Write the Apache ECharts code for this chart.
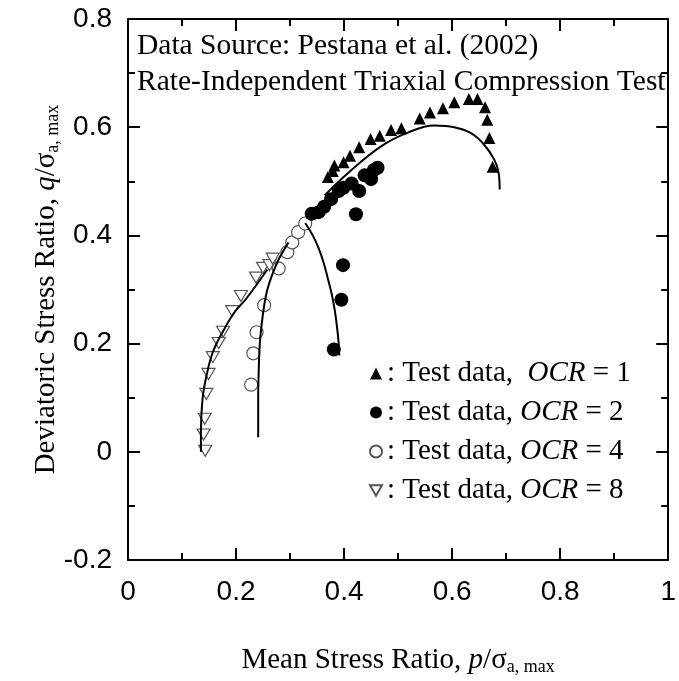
<!DOCTYPE html>
<html>
<head>
<meta charset="utf-8">
<script src="https://cdn.jsdelivr.net/npm/echarts@6/dist/echarts.min.js"></script>
<style>html,body{margin:0;padding:0;background:#fff;}#c{width:679px;height:681px;}</style>
</head>
<body>
<div id="c"></div>
<script>
// ---- Data ----
const xTicks = [0, 0.2, 0.4, 0.6, 0.8, 1];
const yTicks = [-0.2, 0, 0.2, 0.4, 0.6, 0.8];

const ocr1P = [0.370,0.379,0.382,0.399,0.411,0.428,0.449,0.466,0.487,0.506,0.540,0.559,0.583,0.604,0.631,0.647,0.661,0.665,0.669,0.675];
const ocr1Q = [0.508,0.519,0.529,0.535,0.547,0.563,0.578,0.584,0.595,0.598,0.616,0.627,0.635,0.646,0.652,0.652,0.637,0.614,0.580,0.527];

const ocr2P = [0.340,0.353,0.363,0.376,0.390,0.399,0.414,0.428,0.438,0.450,0.455,0.462,0.422,0.398,0.395,0.381];
const ocr2Q = [0.440,0.443,0.453,0.467,0.482,0.488,0.496,0.482,0.511,0.504,0.521,0.525,0.439,0.345,0.281,0.189];

const ocr4P = [0.228,0.232,0.238,0.252,0.279,0.295,0.304,0.315,0.328];
const ocr4Q = [0.124,0.182,0.221,0.271,0.339,0.369,0.387,0.406,0.422];

const ocr8P = [0.143,0.140,0.142,0.145,0.149,0.157,0.168,0.176,0.193,0.209,0.237,0.250,0.262,0.268];
const ocr8Q = [0.002,0.032,0.061,0.107,0.144,0.175,0.201,0.222,0.260,0.288,0.322,0.340,0.345,0.357];

// Model curves
const fit1P = [0.364,0.408,0.469,0.518,0.567,0.604,0.635,0.659,0.678,0.686,0.688];
const fit1Q = [0.474,0.516,0.565,0.590,0.603,0.600,0.589,0.568,0.540,0.516,0.485];
const fit2P = [0.328,0.342,0.353,0.362,0.370,0.377,0.383,0.387,0.390,0.391];
const fit2Q = [0.423,0.400,0.376,0.350,0.320,0.292,0.260,0.230,0.200,0.178];
const fit4P = [0.297,0.288,0.279,0.268,0.258,0.252,0.248,0.244,0.242,0.241,0.241];
const fit4Q = [0.387,0.372,0.356,0.330,0.300,0.270,0.240,0.200,0.150,0.100,0.027];
const fit8P = [0.135,0.135,0.138,0.146,0.157,0.175,0.197,0.218,0.258];
const fit8Q = [0.000,0.036,0.098,0.144,0.184,0.221,0.258,0.282,0.337];

const legendNames = ['OCR1','OCR2','OCR4','OCR8'];
const legendOCR = ['1','2','4','8'];

const noteLines = ['Data Source: Pestana et al. (2002)', 'Rate-Independent Triaxial Compression Test'];

// ---- Build ----
const pairs = (a, b) => a.map((v, i) => [v, b[i]]);
const SERIF = '"Liberation Serif","Times New Roman",serif';
const SANS = '"Liberation Sans",Arial,sans-serif';
const downTri = 'path://M0,0 L10,0 L5,8.66 Z';

const chart = echarts.init(document.getElementById('c'), null, {renderer: 'canvas'});

function lineSeries(p, q) {
  return {type: 'line', data: pairs(p, q), smooth: 0.4, symbol: 'none', silent: true,
    lineStyle: {color: '#000', width: 2}, z: 3, xAxisIndex: 0, yAxisIndex: 0};
}

const axisCommon = {
  type: 'value',
  axisLine: {show: true, onZero: false, lineStyle: {color: '#000', width: 2}},
  axisTick: {show: true, inside: true, length: 12, lineStyle: {color: '#000', width: 2}},
  minorTick: {show: true, splitNumber: 2, length: 7, lineStyle: {color: '#000', width: 2}},
  splitLine: {show: false},
  minorSplitLine: {show: false}
};

const nameRich = {
  n: {fontFamily: SERIF, fontSize: 29, color: '#000'},
  i: {fontFamily: SERIF, fontSize: 29, fontStyle: 'italic', color: '#000'},
  s: {fontFamily: SERIF, fontSize: 18, color: '#000', verticalAlign: 'bottom', padding: [14, 0, 0, 0]}
};

const option = {
  backgroundColor: '#fff',
  animation: false,
  grid: {left: 128, right: 7, top: 19, bottom: 120, containLabel: false},
  xAxis: [
    Object.assign({}, axisCommon, {
      min: xTicks[0], max: xTicks[xTicks.length - 1], interval: 0.2, position: 'bottom',
      axisLabel: {show: true, fontFamily: SANS, fontSize: 28, color: '#000', margin: 18},
      name: '{n|Mean Stress Ratio, }{i|p}{n|/σ}{s|a, max}',
      nameLocation: 'middle', nameGap: 84,
      nameTextStyle: {rich: nameRich}
    }),
    Object.assign({}, axisCommon, {
      min: xTicks[0], max: xTicks[xTicks.length - 1], interval: 0.2, position: 'top',
      axisLabel: {show: false}
    })
  ],
  yAxis: [
    Object.assign({}, axisCommon, {
      min: yTicks[0], max: yTicks[yTicks.length - 1], interval: 0.2, position: 'left',
      axisLabel: {show: true, fontFamily: SANS, fontSize: 28, color: '#000', margin: 16,
        formatter: v => (Math.abs(v) < 1e-9 ? '0' : String(Math.round(v * 10) / 10))},
      name: '{n|Deviatoric Stress Ratio, }{i|q}{n|/σ}{s|a, max}',
      nameLocation: 'middle', nameGap: 66, nameRotate: 90, nameMoveOverlap: false,
      nameTextStyle: {rich: nameRich}
    }),
    Object.assign({}, axisCommon, {
      min: yTicks[0], max: yTicks[yTicks.length - 1], interval: 0.2, position: 'right',
      axisLabel: {show: false}
    })
  ],
  legend: {
    data: legendNames,
    orient: 'vertical',
    left: 364, top: 354,
    itemWidth: 12, itemHeight: 12, itemGap: 10, itemTextGap: 5,
    selectedMode: false,
    formatter: function (name) {
      const k = legendOCR[legendNames.indexOf(name)];
      const sp = name === 'OCR1' ? ',  ' : ', ';
      return '{n|: Test data' + sp + '}{i|OCR}{n| = ' + k + '}';
    },
    textStyle: {
      rich: {
        n: {fontFamily: SERIF, fontSize: 29, color: '#000', lineHeight: 31},
        i: {fontFamily: SERIF, fontSize: 29, fontStyle: 'italic', color: '#000', lineHeight: 31}
      }
    }
  },
  graphic: noteLines.map((t, i) => ({
    type: 'text', left: 137, top: 31 + i * 36, z: 10, silent: true,
    style: {text: t, font: '29.5px ' + SERIF, fill: '#000'}
  })),
  series: [
    {name: 'OCR1', type: 'scatter', data: pairs(ocr1P, ocr1Q), symbol: 'triangle', symbolSize: 12,
      itemStyle: {color: '#000', opacity: 1}, z: 4},
    {name: 'OCR2', type: 'scatter', data: pairs(ocr2P, ocr2Q), symbol: 'circle', symbolSize: 14,
      itemStyle: {color: '#000', opacity: 1}, z: 4},
    {name: 'OCR4', type: 'scatter', data: pairs(ocr4P, ocr4Q), symbol: 'circle', symbolSize: 13,
      itemStyle: {color: '#fff', borderColor: '#555', borderWidth: 1.2, opacity: 1}, z: 2},
    {name: 'OCR8', type: 'scatter', data: pairs(ocr8P, ocr8Q), symbol: downTri, symbolSize: [13, 11],
      itemStyle: {color: '#fff', borderColor: '#555', borderWidth: 1.2, opacity: 1}, z: 2},
    lineSeries(fit1P, fit1Q),
    lineSeries(fit2P, fit2Q),
    lineSeries(fit4P, fit4Q),
    lineSeries(fit8P, fit8Q)
  ]
};
chart.setOption(option);
</script>
</body>
</html>
